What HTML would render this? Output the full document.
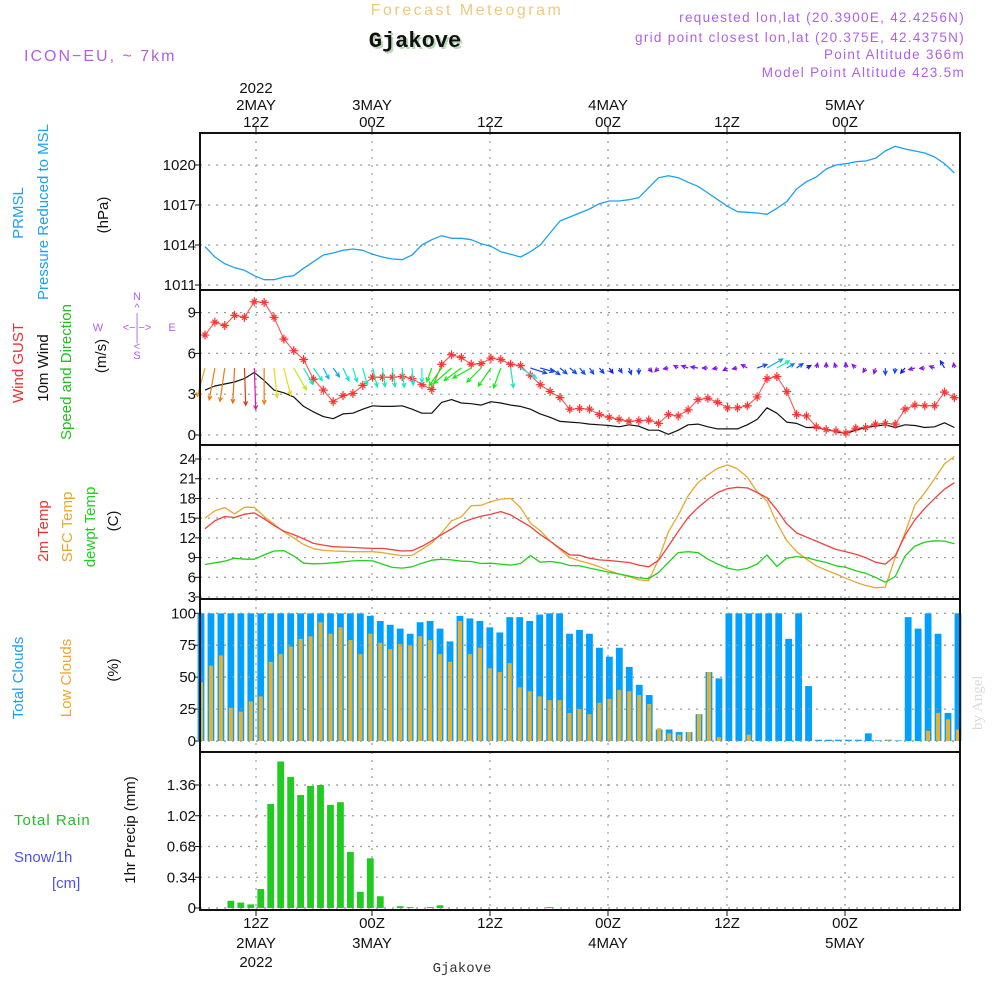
<!DOCTYPE html>
<html><head><meta charset="utf-8"><style>
html,body{margin:0;padding:0;background:#fff}
svg{display:block;font-family:"Liberation Sans",sans-serif}
.t{font-size:15px;fill:#111}
.tk{font-size:15px;fill:#111;text-anchor:end}
.g{stroke:#999;stroke-width:1.2;stroke-dasharray:2 6;fill:none}
</style></head><body>
<svg id="chart" width="1000" height="1000" viewBox="0 0 1000 1000" xmlns="http://www.w3.org/2000/svg">
<rect width="1000" height="1000" fill="#fff"/>
<text x="467" y="15" text-anchor="middle" style="font-size:16px;fill:#f0c880;letter-spacing:2.5px">Forecast Meteogram</text>
<text x="417" y="49" text-anchor="middle" style="font-family:'Liberation Mono',monospace;font-weight:bold;font-size:22px;fill:#b8d8b8">Gjakove</text>
<text x="415" y="47" text-anchor="middle" style="font-family:'Liberation Mono',monospace;font-weight:bold;font-size:22px;fill:#111">Gjakove</text>
<text x="24" y="61" style="font-size:16px;fill:#b060e8;letter-spacing:2px">ICON−EU, ~ 7km</text>
<g style="font-size:13.5px;fill:#b060e8;letter-spacing:1.3px" text-anchor="end">
<text x="965" y="22">requested lon,lat (20.3900E, 42.4256N)</text>
<text x="965" y="42">grid point closest lon,lat (20.375E, 42.4375N)</text>
<text x="965" y="59">Point Altitude 366m</text>
<text x="965" y="77">Model Point Altitude 423.5m</text>
</g>
<text transform="translate(982,730) rotate(-90)" style="font-family:'Liberation Serif',serif;font-size:15px;fill:#d8ddd8">by Angel</text>

<g class="t" text-anchor="middle">
<text x="256" y="93">2022</text><text x="256" y="110">2MAY</text><text x="256" y="127">12Z</text>
<text x="372" y="110">3MAY</text><text x="372" y="127">00Z</text>
<text x="490" y="127">12Z</text>
<text x="608" y="110">4MAY</text><text x="608" y="127">00Z</text>
<text x="727" y="127">12Z</text>
<text x="845" y="110">5MAY</text><text x="845" y="127">00Z</text>
</g>
<g class="t" text-anchor="middle">
<text x="256" y="928">12Z</text><text x="256" y="948">2MAY</text><text x="256" y="967">2022</text>
<text x="372" y="928">00Z</text><text x="372" y="948">3MAY</text>
<text x="490" y="928">12Z</text>
<text x="608" y="928">00Z</text><text x="608" y="948">4MAY</text>
<text x="727" y="928">12Z</text>
<text x="845" y="928">00Z</text><text x="845" y="948">5MAY</text>
</g>
<text x="462" y="972" text-anchor="middle" style="font-family:'Liberation Mono',monospace;font-size:14px;fill:#333">Gjakove</text>

<!-- left labels -->
<g style="font-size:15px">
<text transform="translate(23,213) rotate(-90)" text-anchor="middle" fill="#1ca0f0">PRMSL</text>
<text transform="translate(48,212) rotate(-90)" text-anchor="middle" fill="#1ca0f0">Pressure Reduced to MSL</text>
<text transform="translate(108,215) rotate(-90)" text-anchor="middle" fill="#111">(hPa)</text>
<text transform="translate(23,363) rotate(-90)" text-anchor="middle" fill="#f03030">Wind GUST</text>
<text transform="translate(48,368) rotate(-90)" text-anchor="middle" fill="#111">10m Wind</text>
<text transform="translate(71,372) rotate(-90)" text-anchor="middle" fill="#20c020">Speed and Direction</text>
<text transform="translate(106,356) rotate(-90)" text-anchor="middle" fill="#111">(m/s)</text>
<text transform="translate(48,531) rotate(-90)" text-anchor="middle" fill="#f03030">2m Temp</text>
<text transform="translate(72,527) rotate(-90)" text-anchor="middle" fill="#e8a830">SFC Temp</text>
<text transform="translate(95,527) rotate(-90)" text-anchor="middle" fill="#20d020">dewpt Temp</text>
<text transform="translate(118,521) rotate(-90)" text-anchor="middle" fill="#111">(C)</text>
<text transform="translate(23,678) rotate(-90)" text-anchor="middle" fill="#1ca0f0">Total Clouds</text>
<text transform="translate(71,678) rotate(-90)" text-anchor="middle" fill="#e8a830">Low Clouds</text>
<text transform="translate(118,670) rotate(-90)" text-anchor="middle" fill="#111">(%)</text>
<text transform="translate(135,830) rotate(-90)" text-anchor="middle" fill="#111">1hr Precip (mm)</text>
<text x="14" y="825" fill="#20c020" style="letter-spacing:1px">Total  Rain</text>
<text x="14" y="862" fill="#5050f0">Snow/1h</text>
<text x="52" y="888" fill="#5050f0">[cm]</text>
</g>
<g style="font-size:11px;fill:#b060e8" text-anchor="middle">
<text x="137" y="300">N</text><text x="137" y="311">^</text><text x="137" y="321">|</text>
<text x="98" y="331">W</text><text x="137" y="331">&lt;−|−&gt;</text><text x="172" y="331">E</text>
<text x="137" y="341">|</text><text x="137" y="350">&lt;</text><text x="137" y="359">S</text>
</g>
<g id="marks"></g>
</svg>
<script>
// ---- data ----
const tickHours = ["12Z","00Z","12Z","00Z","12Z","00Z"];
const tickX = [256,372,490,608,727,845];
const pressTicks = [1020,1017,1014,1011];
const windTicks = [0,3,6,9];
const tempTicks = [3,6,9,12,15,18,21,24];
const cloudTicks = [0,25,50,75,100];
const precipTicks = [0,0.34,0.68,1.02,1.36];
const pressure = [1013.88,1013.1,1012.6,1012.3,1012.1,1011.7,1011.4,1011.4,1011.6,1011.7,1012.25,1012.75,1013.25,1013.4,1013.6,1013.7,1013.6,1013.3,1013.1,1012.95,1012.9,1013.25,1014,1014.4,1014.7,1014.5,1014.5,1014.4,1014.1,1013.9,1013.5,1013.3,1013.1,1013.5,1014,1014.9,1015.8,1016.1,1016.4,1016.7,1017.1,1017.3,1017.3,1017.4,1017.55,1018.3,1019.05,1019.2,1019.05,1018.7,1018.4,1017.9,1017.4,1016.9,1016.5,1016.45,1016.4,1016.3,1016.75,1017.25,1018.2,1018.75,1019.1,1019.7,1020,1020.1,1020.25,1020.3,1020.5,1021.05,1021.4,1021.2,1021.05,1020.9,1020.6,1020.1,1019.4];
const gust = [7.35,8.3,8.05,8.8,8.65,9.8,9.75,8.65,7.05,6.2,5.55,4.1,3.3,2.45,2.9,3.05,3.65,4.25,4.25,4.25,4.3,4.15,3.7,3.35,5.2,5.9,5.7,5.2,5.25,5.65,5.55,5.2,5.1,4.4,3.7,3.2,2.75,1.9,1.95,1.9,1.5,1.3,1.15,1,1.05,1.1,0.85,1.5,1.4,1.85,2.6,2.7,2.4,2,2,2.15,2.8,4.15,4.3,3.2,1.5,1.4,0.6,0.4,0.3,0.15,0.5,0.55,0.8,0.85,0.8,1.9,2.2,2.15,2.15,3.15,2.75];
const windSpeed = [3.3,3.6,3.75,3.9,4.15,4.6,4,3.3,3.1,2.8,2.1,1.7,1.35,1.2,1.55,1.6,1.9,2.15,2.1,2.1,2.15,1.9,1.6,1.6,2.4,2.6,2.35,2.3,2.2,2.45,2.35,2.2,2.1,1.9,1.55,1.3,1,0.95,0.9,0.8,0.75,0.7,0.6,0.75,0.65,0.35,0.35,0.05,0.35,0.75,0.8,0.6,0.45,0.45,0.45,0.75,1.15,2,1.6,0.95,0.85,0.55,0.55,0.4,0.25,0.1,0.35,0.55,0.65,0.75,0.55,0.75,0.7,0.55,0.6,0.9,0.55];
const windDir = [195,190,188,183,178,178,180,174,166,150,150,145,153,145,155,163,165,166,172,172,174,176,180,200,215,229,234,241,225,215,200,172,122,108,106,124,130,130,140,145,140,145,150,160,180,140,225,260,300,290,280,270,260,240,260,300,70,60,60,60,55,60,15,0,340,0,315,210,195,180,185,220,255,265,290,330,350];
const windHue = [40,30,30,25,10,320,30,55,55,75,165,170,195,200,185,170,165,165,165,165,170,175,180,120,120,120,120,120,120,120,120,165,180,225,225,225,225,225,225,225,230,240,230,230,230,265,270,270,275,270,270,270,270,270,270,270,225,200,165,210,225,240,270,270,270,270,275,270,270,225,225,240,270,270,270,235,275];
const temp2m = [13.4,14.6,15.25,15.1,15.6,15.8,14.9,13.9,13,12.5,11.85,11.15,10.9,10.65,10.6,10.55,10.45,10.4,10.4,10.2,10,10.05,10.7,11.55,12.5,13.35,14.3,14.85,15.3,15.6,16,15.5,14.6,13.7,12.5,11.5,10.4,9.4,9.35,8.9,8.65,8.55,8.4,8.25,7.85,7.6,8.6,10.75,13,15.1,16.6,17.85,18.9,19.5,19.7,19.6,18.9,18.1,16.25,14.15,12.75,12.1,11.5,10.85,10.25,9.9,9.5,9,8.3,8,9.25,12.4,14.75,16.5,18,19.4,20.4];
const tempSfc = [15,16.1,16.6,15.65,16.65,16.65,15.25,14.1,12.9,12,11,10.35,10.1,10,9.95,9.9,9.9,9.9,9.75,9.5,9.3,9.35,10.25,11.25,12.75,14.6,15.2,16.9,16.95,17.5,17.9,18,16.6,14.25,13.1,11.5,10.25,9,8.5,8.1,7.6,7,6.5,6.1,5.6,5.5,8.75,12.9,15.5,18.4,20.4,21.6,22.6,23.1,22.5,21.25,19,17.6,14.25,11.6,9.9,8.75,7.75,7.1,6.5,5.85,5.25,4.75,4.4,4.5,9,12.75,17,18.85,21,23.25,24.4];
const dewpt = [7.95,8.2,8.45,8.9,8.75,8.75,9.4,10,10.05,9.25,8.15,8.05,8.1,8.2,8.35,8.5,8.55,8.5,8,7.5,7.4,7.6,8.15,8.6,8.75,8.65,8.45,8.4,8.1,8.15,8,7.85,8.1,9.3,8.3,8.4,8.2,7.8,7.75,7.4,7.1,6.75,6.5,6.2,5.9,5.8,6.75,8.25,9.75,9.9,9.75,8.75,8,7.4,7.1,7.35,8,9.4,7.65,8.9,9.15,9,8.6,8.25,7.75,7.5,7,6.6,6,5.25,6.1,9.25,10.75,11.35,11.55,11.5,11.1];
const totalClouds = [100,100,100,100,100,100,100,100,100,100,100,100,100,100,100,100,100,98,94,91,88,84,93,94,88,78,98,96,94,89,85,97,97,94,99,100,100,84,87,84,73,66,73,58,44,36,9,9,7,7,21,54,49,100,100,100,100,100,100,80,100,43,1,1,1,1,1,6,0.5,1,0.5,97,88,100,84,22,100];
const lowClouds = [46,59,67,26,23,31,35,62,68,74,80,82,93,84,89,79,68,84,77,72,76,75,82,79,68,62,94,68,73,57,54,61,42,39,35,32,32,22,25,21,30,33,40,39,36,29,10,6,5,7,21,54,3,0,0,5,0,0,0,0,0,0,0,0,0,0,0,0,0,1,0,0,0,8,22,17,9];
const precip = [0,0,0,0.08,0.06,0.04,0.21,1.15,1.62,1.45,1.25,1.35,1.36,1.14,1.17,0.62,0.18,0.55,0.13,0,0.02,0.01,0,0.01,0.03,0,0,0,0,0,0,0,0,0,0,0.01,0,0,0,0,0,0,0,0,0,0,0,0,0,0,0,0,0,0,0,0,0,0,0,0,0,0,0,0,0,0,0,0,0,0,0,0,0,0,0,0,0];

// ---- axes ----
const X0=200, X1=960;
const panels=[{top:133,bot:290},{top:290,bot:445},{top:445,bot:599},{top:599,bot:752},{top:752,bot:910}];
function xLine(i){return 205+9.86*i;}
function xBar(k){return 201+9.96*k;}
function yP(v){return 165+(1020-v)*13.333;}
function yW(v){return 435-v*13.6;}
function yT(v){return 597-(v-3)*6.571;}
function yC(v){return 741-v*1.277;}
function yR(v){return 908-v*90.44;}

const NS="http://www.w3.org/2000/svg";
const root=document.getElementById('marks');
function el(tag,attrs,parent){const e=document.createElementNS(NS,tag);for(const k in attrs)e.setAttribute(k,attrs[k]);(parent||root).appendChild(e);return e;}
function grp(name){const g=el('g',{});


return g;}

// grid (vertical + horizontal)
const gridG=grp('grid');
panels.forEach(p=>{tickX.forEach(x=>el('line',{x1:x,x2:x,y1:p.top,y2:p.bot,class:'g'},gridG));});
function hgrid(ticks,yf,fmt,name){
  const g=grp(name);
  ticks.forEach(v=>{const y=yf(v);
    el('line',{x1:X0,x2:X1,y1:y,y2:y,class:'g'},gridG);
    el('line',{x1:X0-5,x2:X0,y1:y,y2:y,stroke:'#111','stroke-width':1},g);
    const t=el('text',{x:196,y:y+5,class:'tk'},g);t.textContent=fmt(v);});
}
hgrid(pressTicks,yP,v=>String(v),'pressure-y-axis');
hgrid(windTicks,yW,v=>String(v),'wind-y-axis');
hgrid(tempTicks,yT,v=>String(v),'temp-y-axis');
hgrid(cloudTicks,yC,v=>String(v),'cloud-y-axis');
hgrid(precipTicks,yR,v=>v===0?'0':v.toFixed(2),'precip-y-axis');

// x ticks
const xt=grp('x-axis-ticks');
tickX.forEach(x=>{el('line',{x1:x,x2:x,y1:127,y2:133,stroke:'#111'},xt);el('line',{x1:x,x2:x,y1:910,y2:916,stroke:'#111'},xt);});

// clouds
const cg=grp('cloud-bars');
totalClouds.forEach((v,k)=>{const x=xBar(k);const y=yC(v);
  const r=el('rect',{x:x-3.4,y:y,width:6.8,height:Math.max(0.6,yC(0)-y),fill:'#00a0ff'},cg);
  
  });
lowClouds.forEach((v,k)=>{if(v<=0)return;const x=xBar(k);const y=yC(v);
  const r=el('rect',{x:x-2,y:y,width:4,height:yC(0)-y,fill:'#e8b030'},cg);
  
  });
// precip
const pg=grp('precip-bars');
precip.forEach((v,k)=>{if(v<=0)return;const x=xBar(k);const y=yR(v);
  const r=el('rect',{x:x-3.4,y:y,width:6.8,height:yR(0)-y,fill:'#20cc20'},pg);
  
  });

// re-draw grid dots over bars for clouds panel
cloudTicks.forEach(v=>{const y=yC(v);el('line',{x1:X0,x2:X1,y1:y,y2:y,class:'g'},cg);});

function line(arr,yf,color,name,w){
  const d=arr.map((v,i)=>(i?'L':'M')+xLine(i).toFixed(1)+' '+yf(v).toFixed(1)).join(' ');
  const p=el('path',{d:d,fill:'none',stroke:color,'stroke-width':w||1.3,'stroke-linejoin':'round'});
  
  
  return p;
}
line(pressure,yP,'#1ca0f0','pressure-line');
line(windSpeed,yW,'#111','wind-speed-line',1.2);
line(tempSfc,yT,'#e8a830','sfc-temp-line');
line(temp2m,yT,'#f04040','temp-2m-line');
line(dewpt,yT,'#20d020','dewpt-line');
line(gust,yW,'#f55','gust-line',1.1);
const gm=grp('gust-markers');
gust.forEach((v,i)=>{const x=xLine(i),y=yW(v);
  el('path',{d:`M${x-4.5} ${y}H${x+4.5}M${x} ${y-4.5}V${y+4.5}M${x-2.5} ${y-2.5}L${x+2.5} ${y+2.5}M${x-2.5} ${y+2.5}L${x+2.5} ${y-2.5}`,stroke:'#f33','stroke-width':1.2,fill:'none'},gm);});

// wind arrows
const wa=grp('wind-arrows');
windDir.forEach((b,i)=>{
  const s=windSpeed[i]; const L=Math.max(5,s*9);
  const x0=xLine(i), y0=368;
  const a=b*Math.PI/180; const dx=Math.sin(a), dy=-Math.cos(a);
  const x1=x0+dx*L, y1=y0+dy*L;
  const h=4.5, ang=0.45;
  const bx=-dx, by=-dy;
  const c=Math.cos(ang), sn=Math.sin(ang);
  const l1x=x1+h*(bx*c-by*sn), l1y=y1+h*(bx*sn+by*c);
  const l2x=x1+h*(bx*c+by*sn), l2y=y1+h*(-bx*sn+by*c);
  const col='hsl('+(windHue[i]!==undefined?windHue[i]:225)+',85%,50%)';
  const p=el('path',{d:`M${x0} ${y0}L${x1} ${y1}M${l1x} ${l1y}L${x1} ${y1}L${l2x} ${l2y}`,stroke:col,'stroke-width':1.2,fill:'none'},wa);
  
  
});

// panel frames
const fr=grp('panel-frames');
panels.forEach(p=>el('rect',{x:X0,y:p.top,width:X1-X0,height:p.bot-p.top,fill:'none',stroke:'#111','stroke-width':2},fr));
</script>
</body></html>
